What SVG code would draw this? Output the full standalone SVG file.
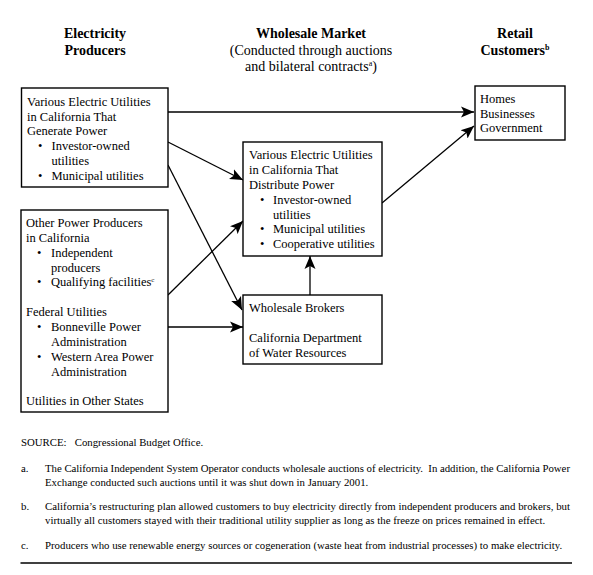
<svg xmlns="http://www.w3.org/2000/svg" width="593" height="575" viewBox="0 0 593 575">
<style>
text{font-family:"Liberation Serif","Times New Roman",serif;fill:#000;white-space:pre}
.h{font-size:14px;font-weight:bold;text-anchor:middle}
.hs{font-size:14px;text-anchor:middle}
.t{font-size:12.5px}
.f{font-size:10.8px}
.box{fill:#fff;stroke:#000;stroke-width:1.4}
.c{stroke:#000;stroke-width:1.3;fill:none;marker-end:url(#ah)}
</style>
<defs>
<marker id="ah" markerUnits="userSpaceOnUse" markerWidth="14" markerHeight="12" viewBox="0 0 14 12" refX="13" refY="6" orient="auto">
<path d="M0,0.5 L13,6 L0,11.5 L3,6 Z" fill="#000"/>
</marker>
</defs>
<rect width="593" height="575" fill="#fff"/>
<g id="headers">
<text class="h" x="95" y="38">Electricity</text>
<text class="h" x="95" y="54.5">Producers</text>
<text class="h" x="311" y="38">Wholesale Market</text>
<text class="hs" x="311" y="54.5">(Conducted through auctions</text>
<text class="hs" x="311" y="70.5">and bilateral contracts<tspan font-size="8" dy="-5">a</tspan><tspan dy="5">)</tspan></text>
<text class="h" x="515" y="38">Retail</text>
<text class="h" x="515" y="54.5">Customers<tspan font-size="8" dy="-5">b</tspan></text>
</g>
<g id="connectors">
<line class="c" x1="168" y1="112" x2="474" y2="112"/>
<line class="c" x1="168" y1="142" x2="243" y2="180"/>
<line class="c" x1="168" y1="165" x2="242" y2="310"/>
<line class="c" x1="168" y1="295" x2="243" y2="221"/>
<line class="c" x1="168" y1="327" x2="243" y2="327"/>
<line class="c" x1="310" y1="295" x2="310" y2="256"/>
<line class="c" x1="382" y1="203" x2="474" y2="126"/>
</g>
<g id="generate">
<rect class="box" x="21.5" y="88" width="146.5" height="99"/>
<text class="t" x="27" y="106">Various Electric Utilities</text>
<text class="t" x="27" y="120.5">in California That</text>
<text class="t" x="27" y="135">Generate Power</text>
<text class="t" x="38" y="150">•</text>
<text class="t" x="51.5" y="150">Investor-owned</text>
<text class="t" x="51.5" y="164.5">utilities</text>
<text class="t" x="38" y="179.5">•</text>
<text class="t" x="51.5" y="179.5">Municipal utilities</text>
</g>
<g id="other">
<rect class="box" x="21" y="210" width="147" height="202"/>
<text class="t" x="26" y="227">Other Power Producers</text>
<text class="t" x="26" y="242">in California</text>
<text class="t" x="37" y="257">•</text>
<text class="t" x="51" y="257">Independent</text>
<text class="t" x="51" y="271.5">producers</text>
<text class="t" x="37" y="286">•</text>
<text class="t" x="51" y="286">Qualifying facilities<tspan font-size="7" dy="-4.5">c</tspan></text>
<text class="t" x="26" y="316">Federal Utilities</text>
<text class="t" x="37" y="331">•</text>
<text class="t" x="51" y="331">Bonneville Power</text>
<text class="t" x="51" y="346">Administration</text>
<text class="t" x="37" y="361">•</text>
<text class="t" x="51" y="361">Western Area Power</text>
<text class="t" x="51" y="376">Administration</text>
<text class="t" x="26" y="405">Utilities in Other States</text>
</g>
<g id="distribute">
<rect class="box" x="243" y="142" width="139" height="114"/>
<text class="t" x="249" y="159">Various Electric Utilities</text>
<text class="t" x="249" y="174">in California That</text>
<text class="t" x="249" y="189">Distribute Power</text>
<text class="t" x="260" y="204">•</text>
<text class="t" x="273" y="204">Investor-owned</text>
<text class="t" x="273" y="218.5">utilities</text>
<text class="t" x="260" y="233">•</text>
<text class="t" x="273" y="233">Municipal utilities</text>
<text class="t" x="260" y="247.5">•</text>
<text class="t" x="273" y="247.5">Cooperative utilities</text>
</g>
<g id="brokers">
<rect class="box" x="243" y="295" width="139" height="69"/>
<text class="t" x="249" y="312">Wholesale Brokers</text>
<text class="t" x="249" y="342">California Department</text>
<text class="t" x="249" y="357">of Water Resources</text>
</g>
<g id="retail">
<rect class="box" x="475" y="86" width="90" height="54"/>
<text class="t" x="480" y="103">Homes</text>
<text class="t" x="480" y="117.5">Businesses</text>
<text class="t" x="480" y="132">Government</text>
</g>
<g id="notes">
<text class="f" x="21" y="445.5">SOURCE:   Congressional Budget Office.</text>
<text class="f" x="21" y="472">a.</text>
<text class="f" x="45" y="472" textLength="525" lengthAdjust="spacing">The California Independent System Operator conducts wholesale auctions of electricity.  In addition, the California Power</text>
<text class="f" x="45" y="485.5">Exchange conducted such auctions until it was shut down in January 2001.</text>
<text class="f" x="21" y="510">b.</text>
<text class="f" x="45" y="510" textLength="525" lengthAdjust="spacing">California’s restructuring plan allowed customers to buy electricity directly from independent producers and brokers, but</text>
<text class="f" x="45" y="523.5">virtually all customers stayed with their traditional utility supplier as long as the freeze on prices remained in effect.</text>
<text class="f" x="21" y="549">c.</text>
<text class="f" x="45" y="549">Producers who use renewable energy sources or cogeneration (waste heat from industrial processes) to make electricity.</text>
<line x1="20.5" y1="563" x2="572" y2="563" stroke="#000" stroke-width="1.3"/>
</g>
</svg>
